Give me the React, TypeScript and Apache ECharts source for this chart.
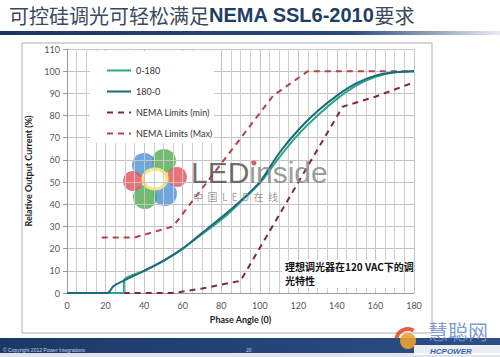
import React, { useEffect, useRef } from "react";
import * as echarts from "echarts";

const xTicks = [0, 20, 40, 60, 80, 100, 120, 140, 160, 180];
const yTicks = [0, 10, 20, 30, 40, 50, 60, 70, 80, 90, 100, 110];

const up0180X = [0, 10, 20, 29.4, 29.6, 40, 50, 60, 70, 80, 90, 100, 110, 120, 130, 140, 150, 160, 170, 180];
const up0180Y = [0, 0, 0, 0, 5.8, 10, 14.5, 20, 26.5, 33, 41, 49.5, 61, 71.5, 80, 87.5, 93.5, 97.5, 99.5, 100];

const down1800X = [0, 10, 21, 24, 30, 40, 50, 60, 70, 80, 90, 100, 110, 120, 130, 140, 150, 160, 170, 180];
const down1800Y = [0, 0, 0, 3, 5.8, 10, 14.5, 20, 27, 34, 41.5, 50, 63, 73.5, 82, 89, 94.5, 98, 99.5, 100];

const nemaMinX = [18, 55, 70, 90, 143, 160, 180];
const nemaMinY = [0, 0, 2, 5.5, 84, 88.5, 95];

const nemaMaxX = [18, 35, 55, 107, 125, 180];
const nemaMaxY = [25, 25, 30, 89, 100, 100];

const seriesNames = ["0-180", "180-0", "NEMA Limits (min)", "NEMA Limits (Max)"];

const pairs = (xs: number[], ys: number[]) => xs.map((x, i) => [x, ys[i]]);

export default function App() {
  const ref = useRef<HTMLDivElement>(null);
  useEffect(() => {
    document.body.style.margin = "0";
    const chart = echarts.init(ref.current!, null, { renderer: "svg" });
    const font = "Lato, 'Open Sans', sans-serif";
    const cjk = "'Noto Sans CJK SC', sans-serif";
    chart.setOption({
      animation: false,
      backgroundColor: "#ffffff",
      textStyle: { fontFamily: font },
      grid: { left: 67, right: 86, top: 49, bottom: 64 },
      legend: {
        orient: "vertical",
        left: 101,
        top: 61,
        itemWidth: 24,
        itemHeight: 10,
        itemGap: 12,
        data: seriesNames,
        itemStyle: { opacity: 0, borderWidth: 0 },
        textStyle: { fontSize: 9, color: "#333", fontFamily: font },
        z: 6,
      },
      xAxis: {
        type: "value",
        min: 0,
        max: 180,
        interval: 20,
        name: "Phase Angle (0)",
        nameLocation: "middle",
        nameGap: 21,
        nameTextStyle: { fontSize: 9, fontWeight: "bold", color: "#222" },
        axisLine: { lineStyle: { color: "#9a9a9a" } },
        axisTick: { show: false },
        axisLabel: {
          fontSize: 9,
          color: "#555",
          margin: 8,
          formatter: (v: number) => (xTicks.includes(v) ? String(v) : ""),
        },
        splitLine: { show: true, lineStyle: { color: "#c4c4c4", width: 1 } },
        minorTick: { show: false, splitNumber: 4 },
        minorSplitLine: { show: true, lineStyle: { color: "#cfcfcf", width: 1 } },
      },
      yAxis: {
        type: "value",
        min: 0,
        max: 110,
        interval: 10,
        name: "Relative Output Current (%)",
        nameLocation: "middle",
        nameGap: 24,
        nameRotate: 90,
        nameTextStyle: { fontSize: 9, fontWeight: "bold", color: "#222" },
        axisLine: { show: true, lineStyle: { color: "#9a9a9a" } },
        axisTick: { show: true, length: 4, lineStyle: { color: "#9a9a9a" } },
        axisLabel: {
          fontSize: 9,
          color: "#555",
          margin: 7,
          formatter: (v: number) => (yTicks.includes(v) ? String(v) : ""),
        },
        splitLine: { show: true, lineStyle: { color: "#c4c4c4", width: 1 } },
      },
      series: [
        {
          name: seriesNames[0],
          type: "line",
          data: pairs(up0180X, up0180Y),
          symbol: "none",
          smooth: 0.3,
          lineStyle: { color: "#2aa784", width: 2 },
          itemStyle: { color: "#2aa784" },
          z: 4,
        },
        {
          name: seriesNames[1],
          type: "line",
          data: pairs(down1800X, down1800Y),
          symbol: "none",
          smooth: 0.3,
          lineStyle: { color: "#1c6a80", width: 2 },
          itemStyle: { color: "#1c6a80" },
          z: 4,
        },
        {
          name: seriesNames[2],
          type: "line",
          data: pairs(nemaMinX, nemaMinY),
          symbol: "none",
          lineStyle: { color: "#7e2a3c", width: 2, type: [6, 5] },
          itemStyle: { color: "#7e2a3c" },
          z: 3,
        },
        {
          name: seriesNames[3],
          type: "line",
          data: pairs(nemaMaxX, nemaMaxY),
          symbol: "none",
          lineStyle: { color: "#b8404a", width: 2, type: [6, 5] },
          itemStyle: { color: "#b8404a" },
          z: 3,
        },
      ],
      graphic: [
        { type: "rect", z: -10, shape: { x: 22, y: 43, width: 410, height: 290 }, style: { fill: "#fff", stroke: "#b0b0b0", lineWidth: 1 } },
        { type: "rect", z: 1, shape: { x: 90, y: 51, width: 124, height: 92 }, style: { fill: "#ffffff" } },
        {
          type: "text",
          z: 10,
          left: 9,
          top: 5,
          style: {
            text: "{a|可控硅调光可轻松满足}{b|NEMA SSL6-2010}{a|要求}",
            rich: {
              a: { fontSize: 20, fontFamily: cjk, fill: "#3b4a5c" },
              b: { fontSize: 20, fontFamily: "'Liberation Sans', Arial, sans-serif", fontWeight: "bold", fill: "#1e3e62" },
            },
          },
        },
        {
          type: "rect",
          z: 10,
          shape: { x: 0, y: 31, width: 500, height: 4 },
          style: {
            fill: new echarts.graphic.LinearGradient(0, 0, 1, 0, [
              { offset: 0, color: "#1a3563" },
              { offset: 0.7, color: "#2a4a7c" },
              { offset: 1, color: "#e8ecf2" },
            ]),
          },
        },
        { type: "rect", z: 7, shape: { x: 282, y: 260, width: 116, height: 28 }, style: { fill: "#ffffff" } },
        {
          type: "text",
          z: 8,
          left: 285,
          top: 261,
          style: { text: "理想调光器在120 VAC下的调", fontSize: 10, fontWeight: "bold", fontFamily: cjk, fill: "#111" },
        },
        {
          type: "text",
          z: 8,
          left: 285,
          top: 275,
          style: { text: "光特性", fontSize: 10, fontWeight: "bold", fontFamily: cjk, fill: "#111" },
        },
        {
          type: "group",
          z: 9,
          children: [
            { type: "circle", shape: { cx: 144, cy: 165, r: 12 }, style: { fill: "#4a90d8", opacity: 0.8 } },
            { type: "circle", shape: { cx: 164, cy: 161, r: 12 }, style: { fill: "#4daa4f", opacity: 0.8 } },
            { type: "circle", shape: { cx: 177, cy: 177, r: 10 }, style: { fill: "#e5505a", opacity: 0.8 } },
            { type: "circle", shape: { cx: 165, cy: 194, r: 12 }, style: { fill: "#4a90d8", opacity: 0.8 } },
            { type: "circle", shape: { cx: 145, cy: 197, r: 12 }, style: { fill: "#4daa4f", opacity: 0.8 } },
            { type: "circle", shape: { cx: 133, cy: 181, r: 10 }, style: { fill: "#e5505a", opacity: 0.8 } },
            { type: "ellipse", shape: { cx: 155, cy: 179, rx: 12, ry: 10 }, style: { fill: "#ffffff", stroke: "#f3e67a", lineWidth: 3 } },
          ],
        },
        {
          type: "text",
          z: 9,
          left: 191,
          top: 157,
          style: {
            text: "{l|LED}{i|inside}",
            rich: {
              l: { fontSize: 30, fontFamily: "'Liberation Sans', Arial, sans-serif", fill: "#555555" },
              i: { fontSize: 30, fontFamily: "'Liberation Sans', Arial, sans-serif", fill: "#8a8a8a" },
            },
            opacity: 0.85,
          },
        },
        { type: "circle", z: 9, shape: { cx: 254, cy: 163, r: 2.5 }, style: { fill: "#d06070" } },
        {
          type: "text",
          z: 9,
          left: 193,
          top: 191,
          style: { text: "中  国  L  E  D  在  线", fontSize: 10, fontFamily: cjk, fill: "#8a8a8a", opacity: 0.85 },
        },
        { type: "rect", z: 10, shape: { x: 0, y: 353, width: 500, height: 4 }, style: { fill: "#dfe3ea" } },
        {
          type: "rect",
          z: 10,
          shape: { x: 0, y: 338, width: 500, height: 15 },
          style: {
            fill: new echarts.graphic.LinearGradient(0, 0, 1, 0, [
              { offset: 0, color: "#1c3866" },
              { offset: 1, color: "#2c4f86" },
            ]),
          },
        },
        { type: "text", z: 11, left: 3, top: 347, style: { text: "© Copyright 2012 Power Integrations", fontSize: 5, fill: "#c8d4e8", fontFamily: "'Liberation Sans', sans-serif" } },
        { type: "text", z: 11, left: 246, top: 347, style: { text: "20", fontSize: 5, fill: "#c8d4e8", fontFamily: "'Liberation Sans', sans-serif" } },
        { type: "rect", z: 11, shape: { x: 414, y: 345, width: 86, height: 10 }, style: { fill: "#ffffff", opacity: 0.9 } },
        { type: "circle", z: 12, shape: { cx: 408, cy: 341, r: 8 }, style: { fill: "#f0a030", opacity: 0.9 } },
        { type: "arc", z: 12, shape: { cx: 408, cy: 341, r: 12, startAngle: 3.4, endAngle: 5.2 }, style: { stroke: "#e84a2a", lineWidth: 4, fill: "none", opacity: 0.9 } },
        { type: "text", z: 12, left: 428, top: 321, style: { text: "慧聪网", fontSize: 20, fontFamily: cjk, fill: "#6f8fce", opacity: 0.9 } },
        { type: "text", z: 12, left: 430, top: 347, style: { text: "HCPOWER", fontSize: 8, fontStyle: "italic", fontWeight: "bold", fontFamily: "'Liberation Sans', sans-serif", fill: "#3a64b0" } },
      ],
    });
    return () => chart.dispose();
  }, []);
  return <div ref={ref} style={{ width: 500, height: 357 }} />;
}
